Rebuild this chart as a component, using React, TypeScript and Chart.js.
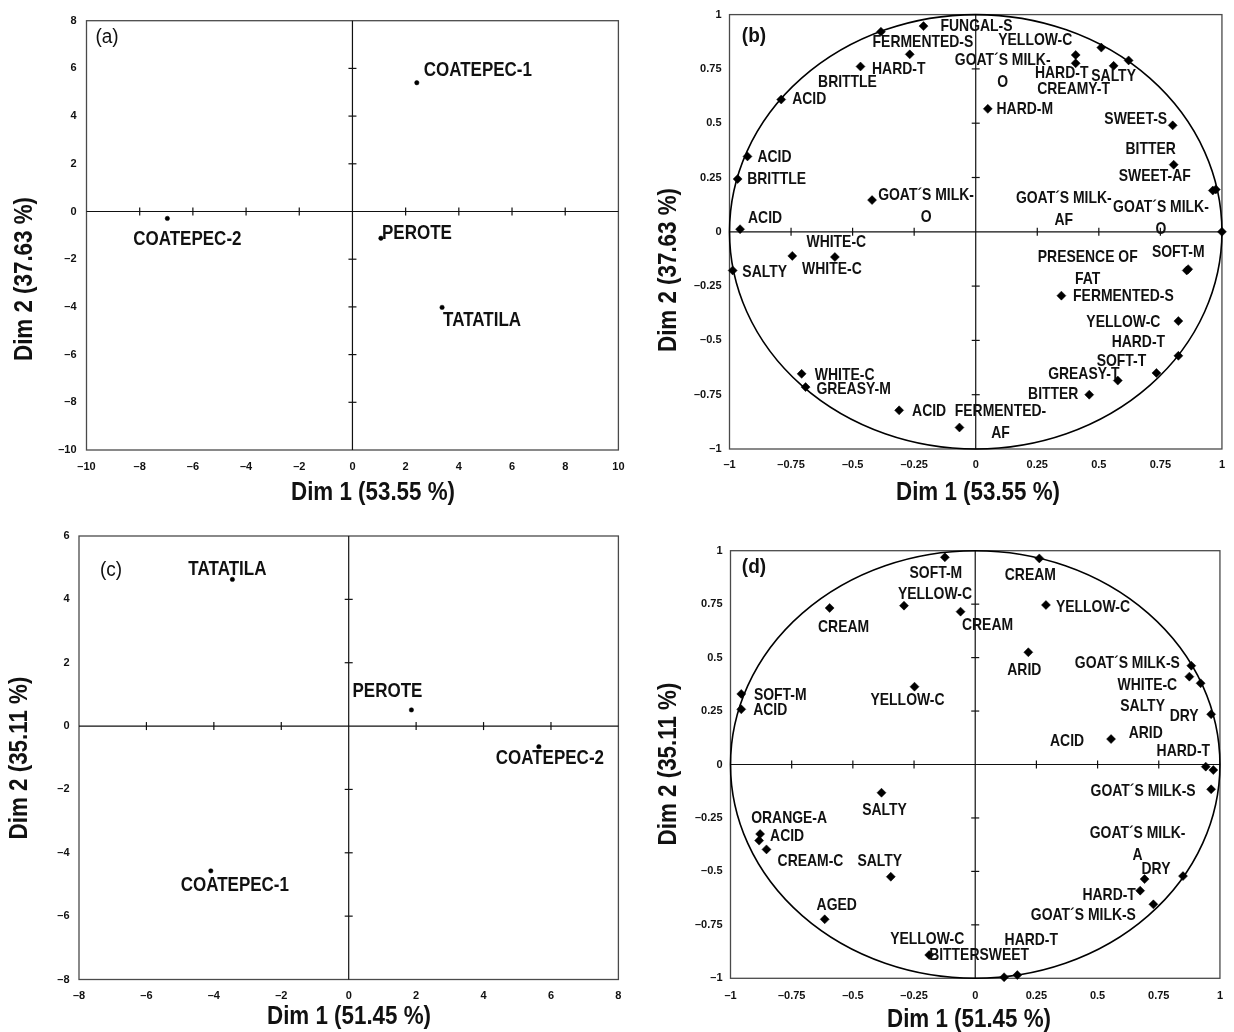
import React, { useEffect, useRef } from 'react';
import { Chart, registerables } from 'chart.js';

Chart.register(...registerables);

const SANS = "'Liberation Sans', Arial, sans-serif";

// ---------- Panel (a): cheeses, first analysis ----------
const aLabels = ['COATEPEC-1', 'COATEPEC-2', 'PEROTE', 'TATATILA'];
const aDim1 = [2.42, -6.96, 1.07, 3.37];
const aDim2 = [5.4, -0.29, -1.12, -4.02];
const aXTicks = [-10, -8, -6, -4, -2, 0, 2, 4, 6, 8, 10];
const aYTicks = [-10, -8, -6, -4, -2, 0, 2, 4, 6, 8];
const aLabelOffsets = [[61, -12], [20, 21], [36, -5], [40, 13]];

// ---------- Panel (b): attributes, first analysis ----------
const bLabels = [
  'FERMENTED-S', 'FUNGAL-S', 'HARD-T', 'BRITTLE', 'ACID', 'ACID', 'BRITTLE', 'GOAT´S MILK-\nO', 'ACID',
  'GOAT´S MILK-\nO', 'HARD-T', 'YELLOW-C', 'SALTY', 'CREAMY-T', 'HARD-M', 'SWEET-S', 'BITTER', 'SWEET-AF',
  'GOAT´S MILK-\nAF', 'GOAT´S MILK-\nO',
  'SOFT-M', 'PRESENCE OF\nFAT', 'FERMENTED-S', 'YELLOW-C', 'HARD-T', 'SOFT-T', 'GREASY-T', 'BITTER', 'FERMENTED-\nAF',
  'SALTY', 'WHITE-C', 'WHITE-C', 'WHITE-C', 'GREASY-M', 'ACID',
];
const bDim1 = [
  -0.385, -0.212, -0.268, -0.468, -0.79, -0.927, -0.967, -0.421, -0.957,
  0.406, 0.406, 0.51, 0.56, 0.621, 0.049, 0.8, 0.804, 0.963, 0.975, 1.0,
  0.863, 0.857, 0.348, 0.823, 0.823, 0.734, 0.577, 0.461, -0.066,
  -0.987, -0.745, -0.572, -0.707, -0.691, -0.311,
];
const bDim2 = [
  0.921, 0.947, 0.817, 0.761, 0.609, 0.347, 0.243, 0.146, 0.012,
  0.814, 0.776, 0.848, 0.764, 0.789, 0.566, 0.49, 0.309, 0.19, 0.195, 0.0,
  -0.172, -0.178, -0.294, -0.411, -0.571, -0.65, -0.685, -0.75, -0.901,
  -0.178, -0.111, -0.116, -0.654, -0.715, -0.822,
];
const bLabelOffsets = [
  [42, 11], [53, 0], [-11, 15], [-13, 16], [28, 0], [27, 1], [39, 0], [54, -5], [25, -11],
  [-73, 5], [-14, 10], [-66, -7], [0, 10], [-55, 29], [37, 0], [-37, -6], [-23, -15], [-58, -14], [-152, 9], [-61, -24],
  [-10, -17], [-99, -13], [62, 1], [-55, 1], [-40, -14], [-35, -12], [-34, -6], [-36, 0], [41, -16],
  [32, 2], [44, -14], [-3, 12], [43, 1], [48, 2], [30, 1],
];
const corTicks = [-1, -0.75, -0.5, -0.25, 0, 0.25, 0.5, 0.75, 1];

// ---------- Panel (c): cheeses, second analysis ----------
const cLabels = ['TATATILA', 'PEROTE', 'COATEPEC-2', 'COATEPEC-1'];
const cDim1 = [-3.45, 1.86, 5.64, -4.09];
const cDim2 = [4.63, 0.51, -0.65, -4.57];
const cXTicks = [-8, -6, -4, -2, 0, 2, 4, 6, 8];
const cYTicks = [-8, -6, -4, -2, 0, 2, 4, 6];
const cLabelOffsets = [[-5, -10], [-24, -18], [11, 12], [24, 15]];

// ---------- Panel (d): attributes, second analysis ----------
const dLabels = [
  'SOFT-M', 'YELLOW-C', 'CREAM', 'CREAM', 'YELLOW-C', 'SOFT-M', 'ACID',
  'CREAM', 'YELLOW-C', 'ARID', 'GOAT´S MILK-S', 'WHITE-C', 'SALTY', 'DRY', 'ACID', 'ARID', 'HARD-T',
  'GOAT´S MILK-S', 'GOAT´S MILK-\nA', 'DRY', 'HARD-T', 'GOAT´S MILK-S', 'HARD-T', 'BITTERSWEET',
  'SALTY', 'ORANGE-A', 'ACID', 'CREAM-C', 'SALTY', 'AGED', 'YELLOW-C',
];
const dDim1 = [
  -0.124, -0.291, -0.06, -0.595, -0.248, -0.956, -0.956,
  0.262, 0.289, 0.217, 0.883, 0.875, 0.921, 0.964, 0.555, 0.942, 0.973,
  0.964, 0.692, 0.849, 0.674, 0.728, 0.172, 0.118,
  -0.383, -0.879, -0.883, -0.853, -0.345, -0.615, -0.188,
];
const dDim2 = [
  0.969, 0.743, 0.715, 0.732, 0.364, 0.33, 0.258,
  0.964, 0.746, 0.525, 0.462, 0.411, 0.38, 0.235, 0.119, -0.01, -0.026,
  -0.116, -0.536, -0.522, -0.59, -0.654, -0.985, -0.995,
  -0.132, -0.325, -0.356, -0.397, -0.525, -0.724, -0.891,
];
const dLabelOffsets = [
  [-9, 16], [31, -11], [27, 14], [14, 19], [-7, 14], [39, 1], [29, 1],
  [-9, 17], [47, 2], [-4, 18], [-64, -2], [-42, 9], [-58, 23], [-27, 2], [-44, 2], [-60, -33], [-30, -19],
  [-68, 2], [-7, -46], [-27, -7], [-31, 5], [-70, 11], [14, -35], [-25, -22],
  [3, 18], [29, -16], [28, -4], [44, 12], [-11, -15], [12, -14], [-2, -16],
];

type Panel = {
  canvas: { left: number; top: number; width: number; height: number };
  area: { left: number; top: number; right: number; bottom: number };
  xRange: [number, number];
  yRange: [number, number];
  xTicks: number[];
  yTicks: number[];
  xs: number[];
  ys: number[];
  labels: string[];
  offsets: number[][];
  marker: 'circle' | 'rectRot';
  radius: number;
  labelSize: number;
  labelSqueeze: number;
  lineHeight: number;
  circle: boolean;
  tag: string;
  tagPos: [number, number];
  tagBold: boolean;
  xTitle: string;
  xTitlePos: [number, number];
  yTitle: string;
  yTitlePos: [number, number];
  xTickPad: number;
  yTickPad: number;
};

const panels: Panel[] = [
  {
    canvas: { left: 0, top: 0, width: 645, height: 515 },
    area: { left: 86.5, top: 20.7, right: 618.4, bottom: 450 },
    xRange: [-10, 10], yRange: [-10, 8], xTicks: aXTicks, yTicks: aYTicks,
    xs: aDim1, ys: aDim2, labels: aLabels, offsets: aLabelOffsets,
    marker: 'circle', radius: 2.2, labelSize: 20, labelSqueeze: 0.85, lineHeight: 22, circle: false,
    tag: '(a)', tagPos: [107, 37], tagBold: false,
    xTitle: 'Dim 1 (53.55 %)', xTitlePos: [373, 493],
    yTitle: 'Dim 2 (37.63 %)', yTitlePos: [25, 279],
    xTickPad: 10, yTickPad: 10,
  },
  {
    canvas: { left: 645, top: 0, width: 589, height: 515 },
    area: { left: 729.5, top: 11, right: 1231, bottom: 449 },
    xRange: [-1, 1], yRange: [-1, 1], xTicks: corTicks, yTicks: corTicks,
    xs: bDim1, ys: bDim2, labels: bLabels, offsets: bLabelOffsets,
    marker: 'rectRot', radius: 4.5, labelSize: 17, labelSqueeze: 0.82, lineHeight: 22, circle: true,
    tag: '(b)', tagPos: [754, 36], tagBold: true,
    xTitle: 'Dim 1 (53.55 %)', xTitlePos: [978, 493],
    yTitle: 'Dim 2 (37.63 %)', yTitlePos: [669, 270],
    xTickPad: 9, yTickPad: 8,
  },
  {
    canvas: { left: 0, top: 515, width: 645, height: 517 },
    area: { left: 79, top: 536, right: 618.4, bottom: 979.5 },
    xRange: [-8, 8], yRange: [-8, 6], xTicks: cXTicks, yTicks: cYTicks,
    xs: cDim1, ys: cDim2, labels: cLabels, offsets: cLabelOffsets,
    marker: 'circle', radius: 2.2, labelSize: 20, labelSqueeze: 0.85, lineHeight: 22, circle: false,
    tag: '(c)', tagPos: [111, 570], tagBold: false,
    xTitle: 'Dim 1 (51.45 %)', xTitlePos: [349, 1017],
    yTitle: 'Dim 2 (35.11 %)', yTitlePos: [20, 758],
    xTickPad: 10, yTickPad: 9.5,
  },
  {
    canvas: { left: 645, top: 515, width: 589, height: 517 },
    area: { left: 730.5, top: 550.7, right: 1228.5, bottom: 978.3 },
    xRange: [-1, 1], yRange: [-1, 1], xTicks: corTicks, yTicks: corTicks,
    xs: dDim1, ys: dDim2, labels: dLabels, offsets: dLabelOffsets,
    marker: 'rectRot', radius: 4.5, labelSize: 17, labelSqueeze: 0.82, lineHeight: 22, circle: true,
    tag: '(d)', tagPos: [754, 567], tagBold: true,
    xTitle: 'Dim 1 (51.45 %)', xTitlePos: [969, 1020],
    yTitle: 'Dim 2 (35.11 %)', yTitlePos: [669, 764],
    xTickPad: 11, yTickPad: 8,
  },
];

function fmtTick(v: number): string {
  return v < 0 ? '\u2013' + String(Math.abs(v)) : String(v);
}

function squeezedText(
  ctx: CanvasRenderingContext2D,
  text: string,
  x: number,
  y: number,
  sx: number,
  rotate = 0
) {
  ctx.save();
  ctx.translate(x, y);
  if (rotate) ctx.rotate(rotate);
  ctx.scale(sx, 1);
  ctx.fillText(text, 0, 0);
  ctx.restore();
}

function makeOverlay(p: Panel) {
  return {
    id: 'overlay',
    beforeDatasetsDraw(chart: any) {
      const ctx: CanvasRenderingContext2D = chart.ctx;
      const a = chart.chartArea;
      const xs = chart.scales.x;
      const ys = chart.scales.y;
      const line = (x1: number, y1: number, x2: number, y2: number) => {
        ctx.beginPath();
        ctx.moveTo(x1, y1);
        ctx.lineTo(x2, y2);
        ctx.stroke();
      };
      ctx.save();
      ctx.strokeStyle = '#4a4a4a';
      ctx.lineWidth = 1.3;
      ctx.strokeRect(a.left, a.top, a.right - a.left, a.bottom - a.top);
      const x0 = xs.getPixelForValue(0);
      const y0 = ys.getPixelForValue(0);
      ctx.strokeStyle = '#111';
      ctx.lineWidth = 1.2;
      line(x0, a.top, x0, a.bottom);
      line(a.left, y0, a.right, y0);
      p.xTicks.forEach((v) => {
        if (v === 0 || v === p.xRange[0] || v === p.xRange[1]) return;
        const px = xs.getPixelForValue(v);
        line(px, y0 - 4, px, y0 + 4);
      });
      p.yTicks.forEach((v) => {
        if (v === 0 || v === p.yRange[0] || v === p.yRange[1]) return;
        const py = ys.getPixelForValue(v);
        line(x0 - 4, py, x0 + 4, py);
      });
      if (p.circle) {
        ctx.beginPath();
        ctx.lineWidth = 1.6;
        ctx.strokeStyle = '#000';
        ctx.ellipse(x0, y0, xs.getPixelForValue(1) - x0, y0 - ys.getPixelForValue(1), 0, 0, Math.PI * 2);
        ctx.stroke();
      }
      ctx.restore();
    },
    afterDatasetsDraw(chart: any) {
      const ctx: CanvasRenderingContext2D = chart.ctx;
      const xs = chart.scales.x;
      const ys = chart.scales.y;
      ctx.save();
      ctx.fillStyle = '#111';
      ctx.textAlign = 'center';
      ctx.textBaseline = 'middle';
      ctx.font = `bold ${p.labelSize}px ${SANS}`;
      p.labels.forEach((lab, i) => {
        const px = xs.getPixelForValue(p.xs[i]);
        const py = ys.getPixelForValue(p.ys[i]);
        const [dx, dy] = p.offsets[i];
        lab.split('\n').forEach((ln, k) => {
          squeezedText(ctx, ln, px + dx, py + dy + k * p.lineHeight, p.labelSqueeze);
        });
      });
      const cl = p.canvas.left;
      const ct = p.canvas.top;
      // panel tag
      ctx.font = `${p.tagBold ? 'bold ' : ''}20px ${SANS}`;
      squeezedText(ctx, p.tag, p.tagPos[0] - cl, p.tagPos[1] - ct, 0.95);
      // axis titles
      ctx.font = `bold 26px ${SANS}`;
      squeezedText(ctx, p.xTitle, p.xTitlePos[0] - cl, p.xTitlePos[1] - ct, 0.86);
      squeezedText(ctx, p.yTitle, p.yTitlePos[0] - cl, p.yTitlePos[1] - ct, 0.86, -Math.PI / 2);
      ctx.restore();
    },
  };
}

function PanelChart({ p }: { p: Panel }) {
  const ref = useRef<HTMLCanvasElement | null>(null);
  useEffect(() => {
    if (!ref.current) return;
    const yW = 60;
    const xH = 30;
    const padding = {
      left: p.area.left - p.canvas.left - yW,
      top: p.area.top - p.canvas.top,
      right: p.canvas.left + p.canvas.width - p.area.right,
      bottom: p.canvas.top + p.canvas.height - p.area.bottom - xH,
    };
    const tickFont = { family: SANS, size: 11, weight: 'bold' as const };
    const chart = new Chart(ref.current, {
      type: 'scatter',
      data: {
        datasets: [
          {
            data: p.xs.map((x, i) => ({ x, y: p.ys[i] })),
            pointStyle: p.marker,
            pointRadius: p.radius,
            pointBackgroundColor: '#000',
            pointBorderColor: '#000',
            pointBorderWidth: 0.5,
            clip: false as any,
          },
        ],
      },
      options: {
        responsive: false,
        animation: false,
        devicePixelRatio: 1,
        events: [],
        layout: { padding },
        plugins: { legend: { display: false }, tooltip: { enabled: false } },
        scales: {
          x: {
            type: 'linear',
            min: p.xRange[0],
            max: p.xRange[1],
            afterBuildTicks: (s: any) => {
              s.ticks = p.xTicks.map((v) => ({ value: v }));
            },
            afterFit: (s: any) => {
              s.height = xH;
            },
            grid: { display: false, drawTicks: false },
            border: { display: false },
            ticks: {
              autoSkip: false,
              maxRotation: 0,
              minRotation: 0,
              padding: p.xTickPad,
              color: '#111',
              font: tickFont,
              callback: (v: any) => fmtTick(Number(v)),
            },
          },
          y: {
            type: 'linear',
            min: p.yRange[0],
            max: p.yRange[1],
            afterBuildTicks: (s: any) => {
              s.ticks = p.yTicks.map((v) => ({ value: v }));
            },
            afterFit: (s: any) => {
              s.width = yW;
            },
            grid: { display: false, drawTicks: false },
            border: { display: false },
            ticks: {
              autoSkip: false,
              padding: p.yTickPad,
              color: '#111',
              font: tickFont,
              callback: (v: any) => fmtTick(Number(v)),
            },
          },
        },
      },
      plugins: [makeOverlay(p)],
    } as any);
    return () => chart.destroy();
  }, [p]);
  return (
    <canvas
      ref={ref}
      width={p.canvas.width}
      height={p.canvas.height}
      style={{
        position: 'absolute',
        left: p.canvas.left,
        top: p.canvas.top,
        width: p.canvas.width,
        height: p.canvas.height,
      }}
    />
  );
}

export default function App() {
  return (
    <div
      style={{
        position: 'absolute',
        left: 0,
        top: 0,
        width: 1234,
        height: 1032,
        background: '#fff',
        overflow: 'hidden',
      }}
    >
      {panels.map((p, i) => (
        <PanelChart key={i} p={p} />
      ))}
    </div>
  );
}
